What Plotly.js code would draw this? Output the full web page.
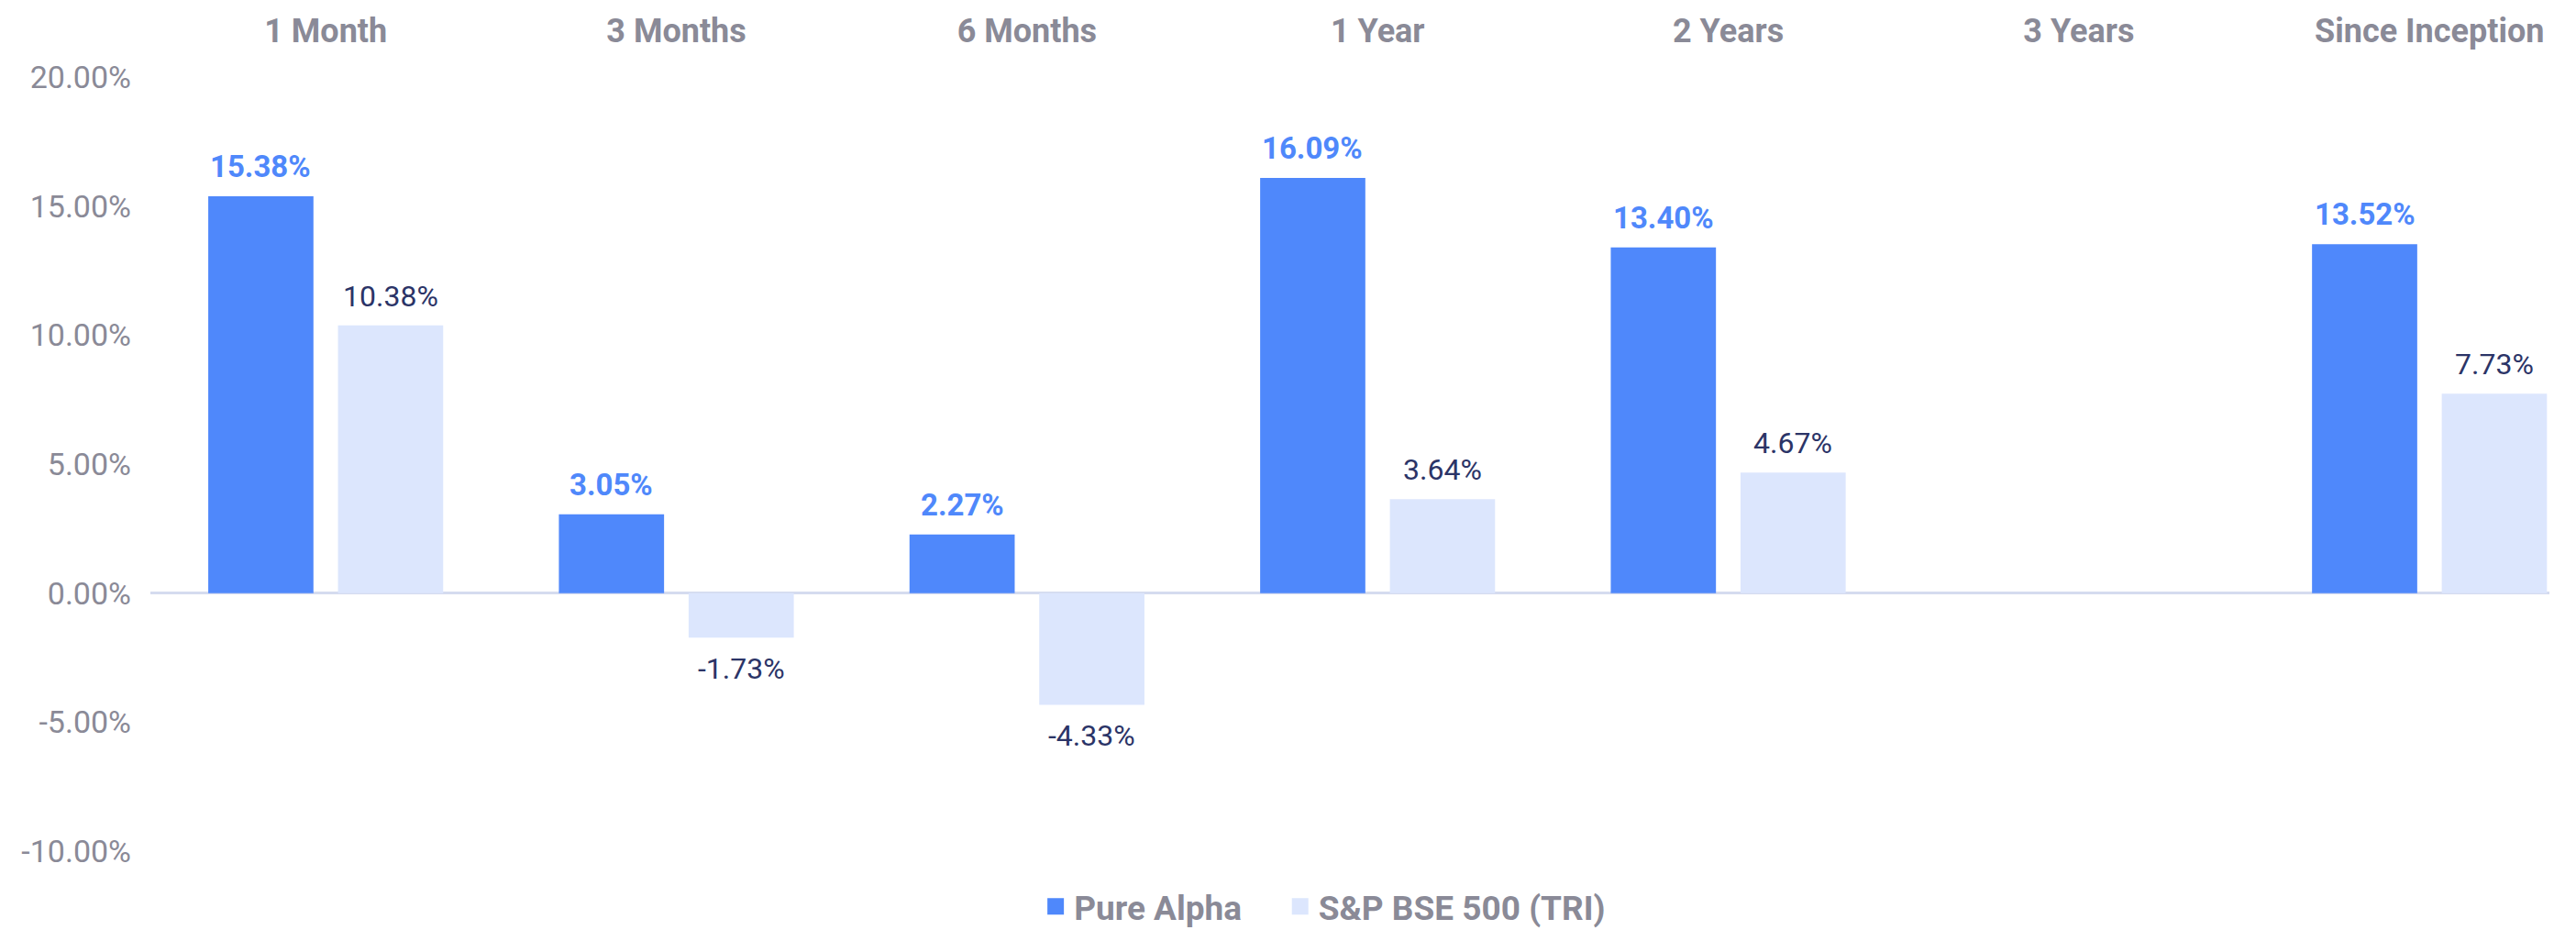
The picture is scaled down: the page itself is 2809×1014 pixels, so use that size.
<!DOCTYPE html>
<html>
<head>
<meta charset="utf-8">
<script src="https://cdn.plot.ly/plotly-3.0.1.min.js"></script>
<style>html,body{margin:0;padding:0;background:#fff;}#chart{width:2809px;height:1014px;}</style>
</head>
<body>
<div id="chart"></div>
<script>
const categories = ["1 Month", "3 Months", "6 Months", "1 Year", "2 Years", "3 Years", "Since Inception"];
const pureAlpha = [15.38, 3.05, 2.27, 16.09, 13.40, null, 13.52];
const bse500 = [10.38, -1.73, -4.33, 3.64, 4.67, null, 7.73];
const seriesNames = ["Pure Alpha", "S&P BSE 500 (TRI)"];
const yTicks = [-10, -5, 0, 5, 10, 15, 20];

const blue = "#4f88fb";
const light = "#dce6fd";
const gray = "#8a8a97";
const navy = "#2b3467";

const barW = 0.30, off = 0.185;

const traces = [
  {type: "bar", name: seriesNames[0], x: categories, y: pureAlpha, width: barW, offset: -off - barW/2,
   marker: {color: blue}, showlegend: false, hoverinfo: "x+y"},
  {type: "bar", name: seriesNames[1], x: categories, y: bse500, width: barW, offset: off - barW/2,
   marker: {color: light}, showlegend: false, hoverinfo: "x+y"},
  {type: "scatter", mode: "markers", name: seriesNames[0], x: [null], y: [null], legend: "legend",
   marker: {symbol: "square", size: 16, color: blue, line: {width: 2, color: blue}}},
  {type: "scatter", mode: "markers", name: seriesNames[1], x: [null], y: [null], legend: "legend2",
   marker: {symbol: "square", size: 16, color: light, line: {width: 2, color: light}}}
];

const annotations = [];
function addLabels(vals, shift, color, bold, size) {
  vals.forEach((v, i) => {
    if (v === null) return;
    annotations.push({
      x: i + shift, y: v, xref: "x", yref: "y",
      text: (bold ? "<b>" : "") + v.toFixed(2) + "%" + (bold ? "</b>" : ""),
      showarrow: false,
      yanchor: v >= 0 ? "bottom" : "top",
      yshift: v >= 0 ? 11 : -13,
      font: {family: "Roboto", size: size, color: color}
    });
  });
}
addLabels(pureAlpha, -off, blue, true, 33);
addLabels(bse500, off, navy, false, 32);

const legendBase = {
  orientation: "h", xanchor: "left", y: -0.072, yanchor: "middle",
  font: {family: "Roboto", size: 37, color: gray, weight: "bold"},
  bgcolor: "rgba(0,0,0,0)",
  itemclick: false, itemdoubleclick: false
};

const layout = {
  width: 2809, height: 1014,
  margin: {l: 164, r: 29, t: 84, b: 86, autoexpand: false},
  paper_bgcolor: "#fff", plot_bgcolor: "#fff",
  barmode: "group",
  font: {family: "Roboto", color: gray},
  xaxis: {
    type: "category", side: "top", range: [-0.5, 6.342],
    showgrid: false, showline: false, zeroline: false, ticks: "",
    tickfont: {family: "Roboto", size: 36, color: gray, weight: "bold"},
    ticklabelstandoff: 30, fixedrange: true
  },
  yaxis: {
    range: [-10, 20], tickvals: yTicks,
    ticktext: yTicks.map(t => t.toFixed(2) + "%"),
    showgrid: false, showline: false,
    zeroline: true, zerolinecolor: "#d5dbef", zerolinewidth: 3,
    ticks: "", tickfont: {family: "Roboto", size: 34, color: gray},
    ticklabelstandoff: 20, fixedrange: true
  },
  legend: Object.assign({}, legendBase, {x: 0.3697}),
  legend2: Object.assign({}, legendBase, {x: 0.4716}),
  annotations: annotations,
  showlegend: true
};

Plotly.newPlot("chart", traces, layout, {displayModeBar: false, staticPlot: true});
</script>
</body>
</html>
